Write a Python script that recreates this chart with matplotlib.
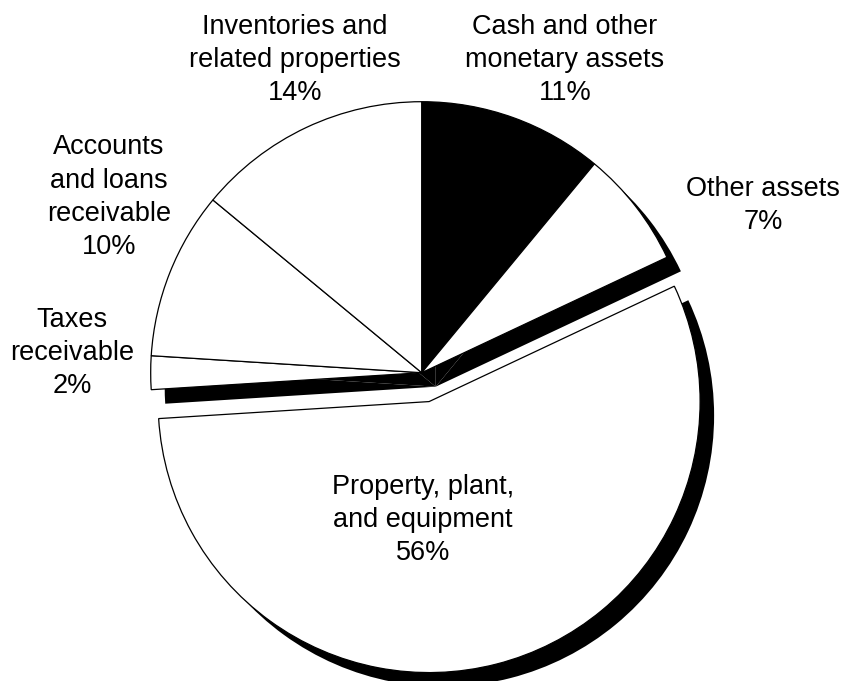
import matplotlib.pyplot as plt

plt.rcParams['font.family'] = ['Liberation Sans', 'DejaVu Sans']

# slices, clockwise from 12 o'clock
labels = ['Cash and other\nmonetary assets', 'Other assets', 'Property, plant,\nand equipment',
          'Taxes\nreceivable', 'Accounts\nand loans\nreceivable', 'Inventories and\nrelated properties']
shares = [11, 7, 56, 2, 10, 14]
fills = ['black', 'white', 'white', 'white', 'white', 'white']
pulled = [0, 0, 0.11, 0, 0, 0]   # fraction of the radius

# label anchor (center x, baseline of last line) in image pixels, from the top
label_pos = [(565, 100), (763, 229), (423, 560), (72, 393), (109, 254), (295, 100)]

W, H = 843, 681
cx, cy, r = 421.7, H - 372.7, 271
shadow = 14

explode = [p * r for p in pulled]   # pie takes explode in data units

fig = plt.figure(figsize=(W / 100, H / 100), dpi=100)
ax = fig.add_axes([0, 0, 1, 1])

# drop shadow: same pie in black, shifted right and down
ax.pie(shares, explode=explode, startangle=90, counterclock=False, radius=r,
       center=(cx + shadow, cy - shadow), colors=['black'] * len(shares),
       wedgeprops=dict(linewidth=0))

ax.pie(shares, explode=explode, startangle=90, counterclock=False, radius=r,
       center=(cx, cy), colors=fills,
       wedgeprops=dict(edgecolor='black', linewidth=0.9))

for lab, val, (px, py) in zip(labels, shares, label_pos):
    ax.text(px, H - py, f'{lab}\n{val}%', ha='center', va='baseline',
            fontsize=19.5, linespacing=1.36, color='black')

ax.set_xlim(0, W)
ax.set_ylim(0, H)
ax.set_aspect('equal')
ax.axis('off')

fig.savefig('out.png', dpi=100, facecolor='white')
